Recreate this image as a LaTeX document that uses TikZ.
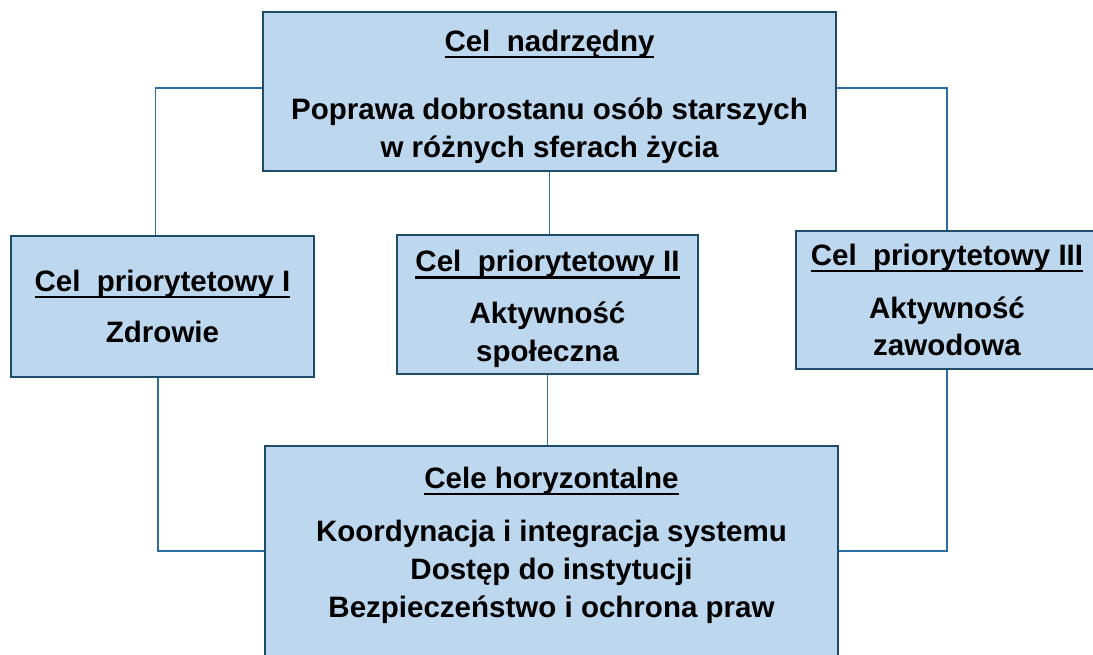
\documentclass[tikz,border=0pt]{standalone}
\usepackage{fontspec}
\setmainfont{Liberation Sans}
\usepackage{tikz}
\usetikzlibrary{positioning,calc}
\usepackage{xcolor}
\definecolor{boxfill}{HTML}{BDD7EE}
\definecolor{boxline}{HTML}{1E4D6B}
\definecolor{linkline}{HTML}{2E6DA4}
\newcommand{\hdrline}[1]{\setbox0\hbox{#1}\rlap{\rule[-4pt]{\wd0}{1.3pt}}\box0}

\begin{document}
\begin{tikzpicture}[x=0.02cm,y=-0.02cm,
  goalbox/.style={draw=boxline,fill=boxfill,line width=1.5pt,align=center,inner sep=0pt,
    font=\fontsize{16.8}{21.5}\selectfont\bfseries},
  link/.style={draw=linkline,line width=1pt}]
\useasboundingbox (0,0) rectangle (1093,655);
\node[goalbox,minimum width=11.46cm,minimum height=3.18cm] (nadrz) at (549.5,91.5)
  {\rule{0pt}{18pt}\hdrline{Cel\ \ nadrzędny}\\[17.5pt] Poprawa dobrostanu osób starszych\\ w różnych sferach życia};
\node[goalbox,minimum width=6.06cm,minimum height=2.82cm] (prio1) at (162.5,306.5)
  {\hdrline{Cel\ \ priorytetowy I}\\[8pt] Zdrowie};
\node[goalbox,minimum width=6.02cm,minimum height=2.78cm] (prio2) at (547.5,304.5)
  {\rule{0pt}{17pt}\hdrline{Cel\ \ priorytetowy II}\\[8pt] Aktywność\\ społeczna};
\node[goalbox,minimum width=6.04cm,minimum height=2.76cm] (prio3) at (947,300)
  {\hdrline{Cel\ \ priorytetowy III}\\[8.5pt] Aktywność\\ zawodowa};
\node[goalbox,minimum width=11.46cm,minimum height=4.2cm] (horyz) at (551.5,551) {};
\node[goalbox,draw=none,fill=none] (horyzt) at ($(horyz.center)+(0,-6)$)
  {\hdrline{Cele horyzontalne}\\[9pt] Koordynacja i integracja systemu\\ Dostęp do instytucji\\ Bezpieczeństwo i ochrona praw};
\draw[link] ([yshift=0.07cm]nadrz.west) -| ([xshift=-0.14cm]prio1.north);
\draw[link] (nadrz.south) -- (nadrz.south |- prio2.north);
\draw[link] ([yshift=0.07cm]nadrz.east) -| (prio3.north);
\draw[link] ([xshift=-0.09cm]prio1.south) |- (horyz.west);
\draw[link] (prio2.south) -- (prio2.south |- horyz.north);
\draw[link] (prio3.south) |- (horyz.east);
\end{tikzpicture}
\end{document}
